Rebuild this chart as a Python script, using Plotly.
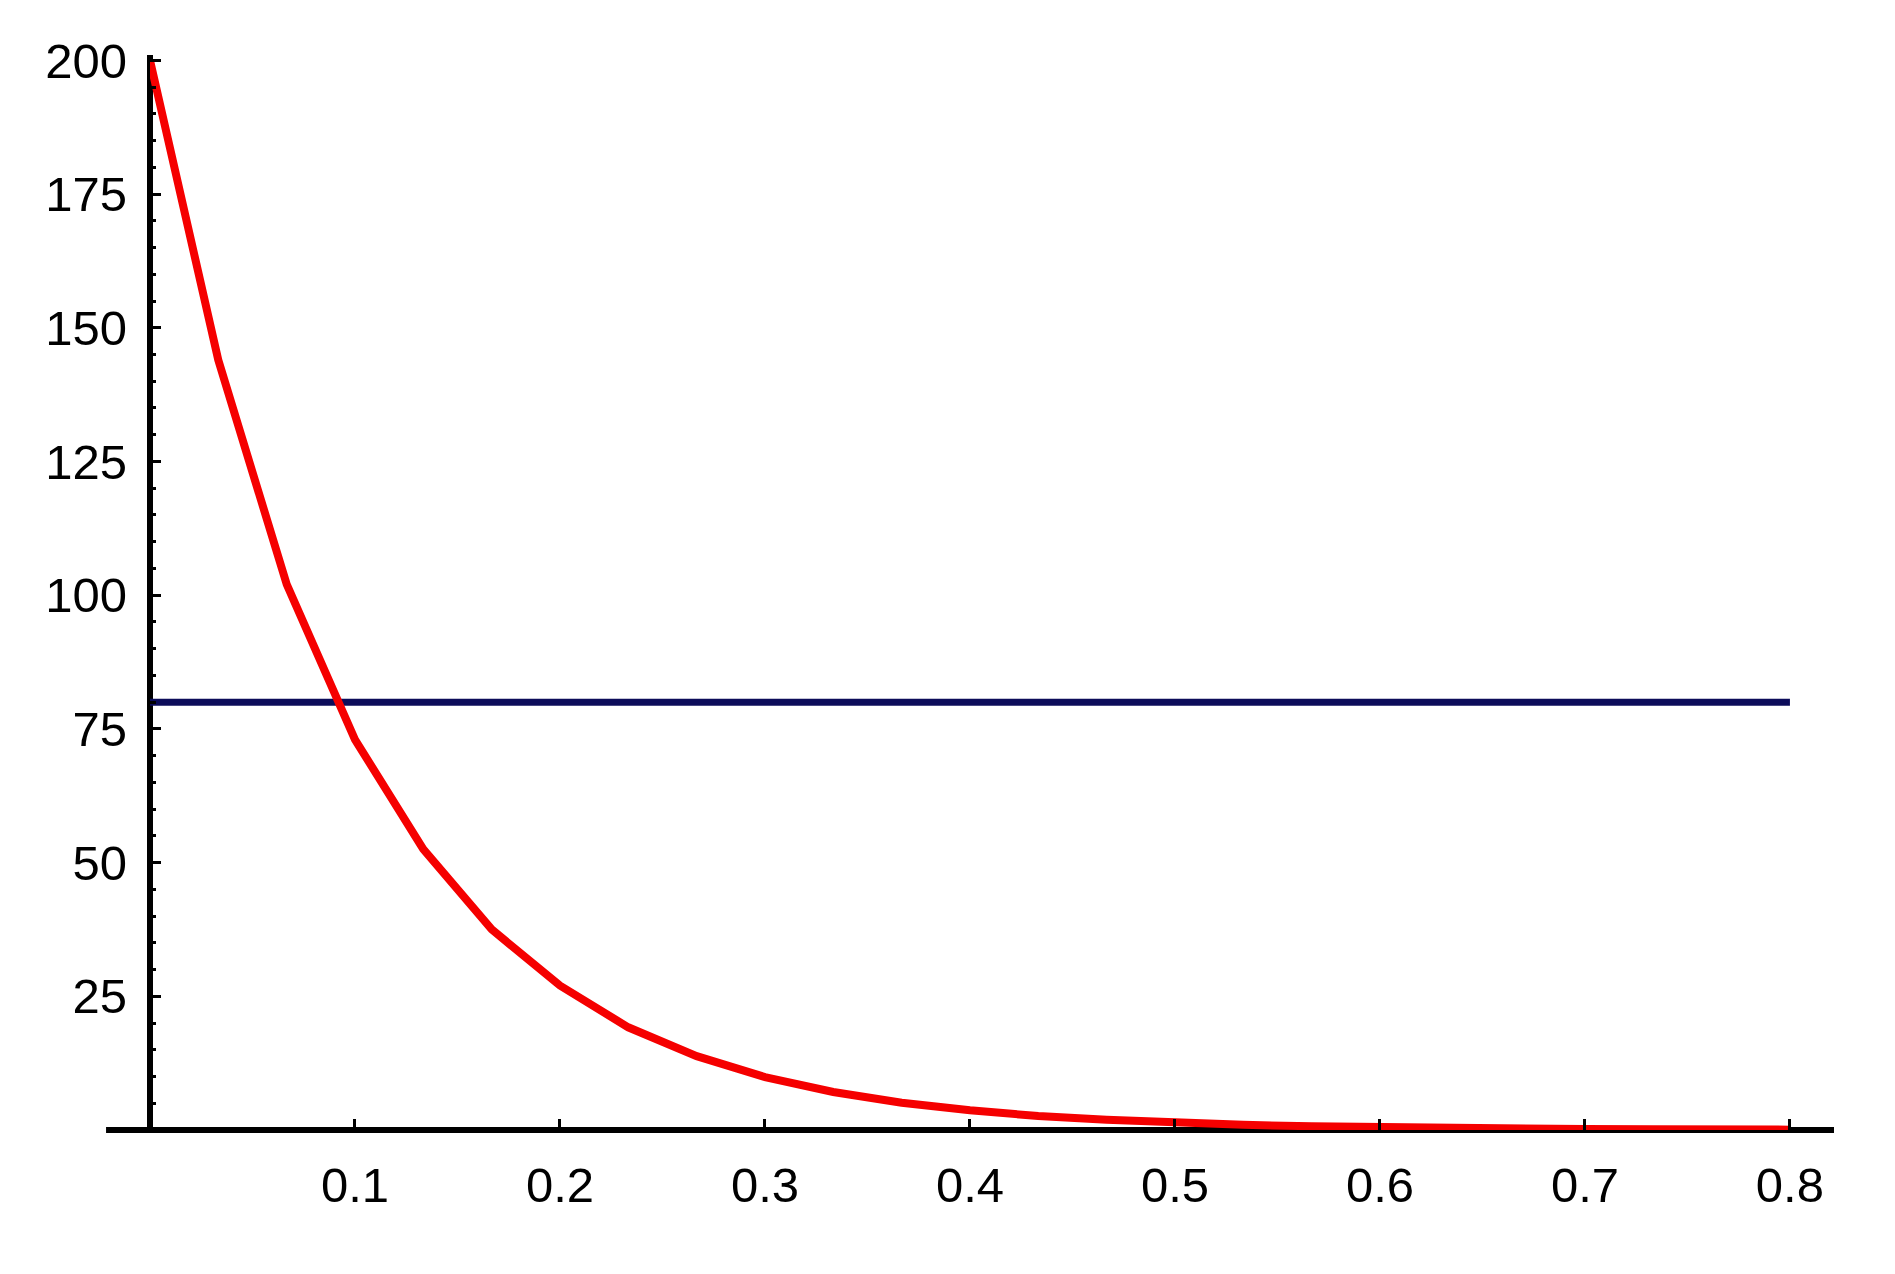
import plotly.graph_objects as go

# Red curve
red_x = [0, 0.0333, 0.0667, 0.1, 0.1333, 0.1667, 0.2, 0.2333, 0.2667, 0.3,
         0.3333, 0.3667, 0.4, 0.4333, 0.4667, 0.5, 0.5333, 0.5667, 0.6, 0.6333,
         0.6667, 0.7, 0.7333, 0.7667, 0.8]
red_y = [200, 144, 102, 73, 52.5, 37.5, 27, 19.2, 13.8, 9.9,
         7.1, 5.1, 3.7, 2.6, 1.9, 1.35, 0.97, 0.7, 0.5, 0.36,
         0.26, 0.18, 0.13, 0.09, 0.07]

# Blue horizontal line
blue_x = [0, 0.8]
blue_y = [80, 80]

x_ticks = [0.1, 0.2, 0.3, 0.4, 0.5, 0.6, 0.7, 0.8]
x_labels = ["0.1", "0.2", "0.3", "0.4", "0.5", "0.6", "0.7", "0.8"]
y_ticks = [25, 50, 75, 100, 125, 150, 175, 200]
y_labels = ["25", "50", "75", "100", "125", "150", "175", "200"]

fig = go.Figure()
fig.add_trace(go.Scatter(x=blue_x, y=blue_y, mode="lines",
                         line=dict(color="#0c0c5a", width=7), showlegend=False))
fig.add_trace(go.Scatter(x=red_x, y=red_y, mode="lines",
                         line=dict(color="#f50000", width=8), showlegend=False))

font = dict(family="Liberation Sans, Arial, sans-serif", size=49, color="black")

fig.update_layout(
    width=1887, height=1266,
    margin=dict(l=142, r=61, t=47, b=144),
    paper_bgcolor="white", plot_bgcolor="white",
    showlegend=False,
    xaxis=dict(range=[0, 0.8215], showgrid=False, zeroline=False, showline=False,
               tickmode="array", tickvals=x_ticks, ticktext=x_labels,
               ticks="inside", ticklen=11, tickwidth=2.5, tickcolor="black",
               tickfont=font, ticklabelstandoff=22),
    yaxis=dict(range=[0, 201], showgrid=False, zeroline=False, showline=False,
               tickmode="array", tickvals=y_ticks, ticktext=y_labels,
               ticks="inside", ticklen=11, tickwidth=3, tickcolor="black",
               tickfont=font, ticklabelstandoff=22,
               minor=dict(ticks="inside", dtick=5, tick0=0, ticklen=6,
                          tickwidth=2.5, tickcolor="black", showgrid=False)),
    shapes=[
        dict(type="line", xref="paper", yref="paper", x0=-0.0261, x1=1, y0=0, y1=0,
             line=dict(color="black", width=6), layer="below"),
        dict(type="line", xref="paper", yref="paper", x0=0, x1=0, y0=0, y1=1,
             line=dict(color="black", width=6), layer="below"),
    ],
)

fig.write_html("out.html")
